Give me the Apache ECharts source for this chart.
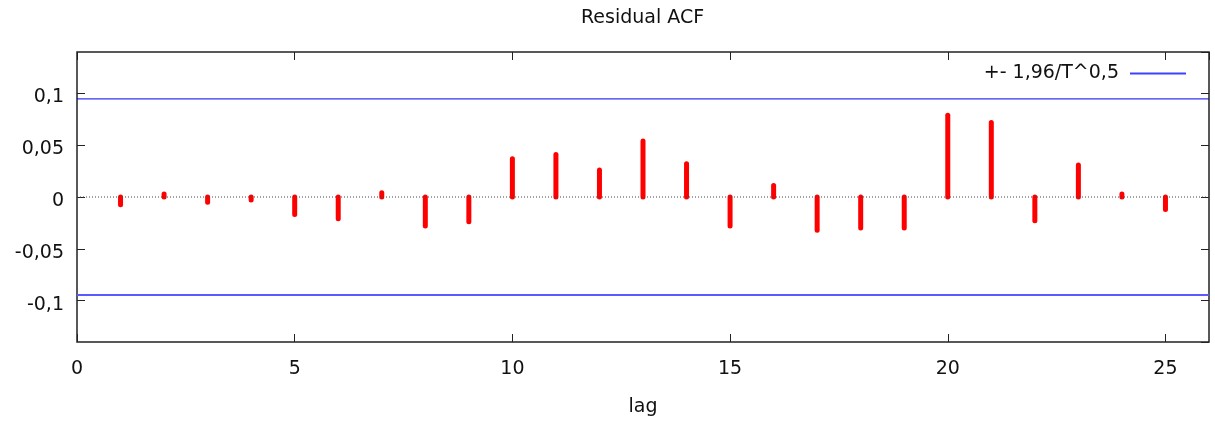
<!DOCTYPE html>
<html>
<head>
    <meta charset="UTF-8">
    <title>Residual ACF</title>
</head>
<body style="margin:0">
    <div id="_Eacf"></div>
</body>
<style type="text/css">
    div{height: 426px;width: 1215px;margin: 0;}
</style>
<script type="text/javascript" src="https://cdn.jsdelivr.net/npm/echarts@6/dist/echarts.min.js"></script>
<script type="text/javascript">
// data
var lags = [1, 2, 3, 4, 5, 6, 7, 8, 9, 10, 11, 12, 13, 14, 15, 16, 17, 18, 19, 20, 21, 22, 23, 24, 25];
var acfVals = [-0.0075, 0.003, -0.005, -0.003, -0.017, -0.021, 0.004, -0.028, -0.024, 0.037,
               0.041, 0.026, 0.054, 0.032, -0.028, 0.011, -0.032, -0.030, -0.030, 0.079,
               0.072, -0.023, 0.031, 0.003, -0.012];
var bandVal = 0.0947;
var xRange = [0, 26];
var yRange = [-0.14, 0.14];
var bandName = '+- 1,96/T^0,5';

var Eacf = echarts.init(document.getElementById('_Eacf'));
var font = 'DejaVu Sans, Verdana, sans-serif';

function comma(v) { return String(Number(v.toFixed(3))).replace('.', ','); }

var acfData = lags.map(function (l, i) { return [l, acfVals[i]]; });

// axis that only draws inward ticks (the frame comes from the grid border)
function tickAxis(pos, min, max, interval, extra) {
    var ax = {
        type: 'value', position: pos, min: min, max: max,
        axisLine: { show: true, onZero: false, lineStyle: { color: 'rgba(0,0,0,0)' } },
        axisTick: { show: true, inside: true, length: 8, lineStyle: { color: '#222', width: 1 } },
        splitLine: { show: false },
        axisLabel: { show: false }
    };
    if (interval) ax.interval = interval;
    for (var k in extra) ax[k] = extra[k];
    return ax;
}

var option = {
    animation: false,
    backgroundColor: '#fff',
    title: {
        text: 'Residual ACF', left: 581, top: 9, padding: 0,
        textStyle: { fontFamily: font, fontSize: 19, fontWeight: 'normal', color: '#111' }
    },
    legend: {
        data: [bandName], right: 29, top: 64, padding: 0, align: 'right',
        icon: 'rect', itemWidth: 56, itemHeight: 2,
        itemStyle: { color: '#4040ff' },
        textStyle: { fontFamily: font, fontSize: 19, color: '#111', padding: [0, 6, 0, 0] }
    },
    grid: {
        left: 77, right: 6, top: 52, bottom: 84,
        show: true, borderColor: '#222', borderWidth: 1.5, backgroundColor: 'transparent'
    },
    xAxis: [
        tickAxis('bottom', xRange[0], xRange[1], 5, {
            name: 'lag', nameLocation: 'middle', nameGap: 56,
            nameTextStyle: { fontFamily: font, fontSize: 19, color: '#111' },
            axisLabel: { show: true, margin: 18, showMaxLabel: false, fontFamily: font, fontSize: 19, color: '#111' }
        }),
        tickAxis('top', xRange[0], xRange[1], 5, {})
    ],
    yAxis: [
        tickAxis('left', yRange[0], yRange[1], null, {
            axisLabel: { show: true, margin: 13, showMinLabel: false, showMaxLabel: false,
                verticalAlign: 'top', lineHeight: 8,
                fontFamily: font, fontSize: 19, color: '#111', formatter: comma }
        }),
        tickAxis('right', yRange[0], yRange[1], null, {})
    ],
    series: [
        { name: 'zero', type: 'line', symbol: 'none', silent: true,
          data: [[xRange[0], 0], [xRange[1], 0]],
          lineStyle: { color: '#444', width: 1, type: [1, 2] } },
        { name: bandName, type: 'line', symbol: 'none', silent: true,
          data: [[xRange[0], bandVal], [xRange[1], bandVal]],
          itemStyle: { color: '#0000ee' },
          lineStyle: { color: '#0000ee', width: 1 } },
        { name: bandName, type: 'line', symbol: 'none', silent: true,
          data: [[xRange[0], -bandVal], [xRange[1], -bandVal]],
          itemStyle: { color: '#5a5aff' },
          lineStyle: { color: '#5a5aff', width: 2 } },
        { name: 'acf', type: 'custom', silent: true,
          data: acfData,
          encode: { x: 0, y: 1 },
          renderItem: function (params, api) {
              var p0 = api.coord([api.value(0), 0]);
              var p1 = api.coord([api.value(0), api.value(1)]);
              return { type: 'line', shape: { x1: p0[0], y1: p0[1], x2: p1[0], y2: p1[1] },
                       style: { stroke: '#ff0000', lineWidth: 5, lineCap: 'round' } };
          } }
    ]
};
Eacf.setOption(option);
</script>
</html>
